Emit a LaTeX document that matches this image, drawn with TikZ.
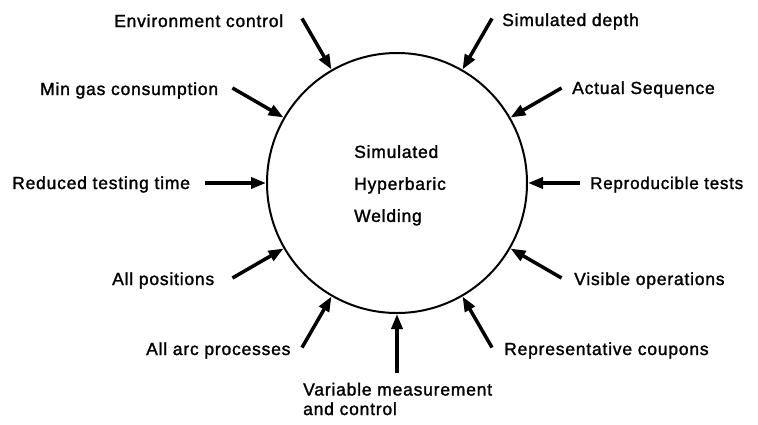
\documentclass[tikz,border=0pt]{standalone}
\usepackage{fontspec}
\setmainfont{Liberation Sans}[LetterSpace=4.5,FakeBold=1.5]
\usetikzlibrary{arrows.meta,calc}
\begin{document}
\begin{tikzpicture}[x=1pt,y=-1pt,
  lbl/.style={inner sep=0pt,anchor=base west,font=\fontsize{17.5}{19.5}\selectfont},
  hub/.style={circle,draw,line width=2pt,minimum size=260pt,inner sep=0pt},
  arr/.style={line width=3.5pt,-{Triangle[length=15pt,width=11pt]}}]
\useasboundingbox (0,0) rectangle (758,424);

% central circle
\node[hub] (c) at (397,183) {};
\node[lbl,align=left,anchor=north west,
      font=\fontsize{17.5}{32}\selectfont] (ct) at (354,145)
  {Simulated\\Hyperbaric\\Welding};

% labels around the circle
\node[lbl] (l120) at (114,27) {Environment control};
\node[lbl] (l60)  at (502,26) {Simulated depth};
\node[lbl] (l150) at (40,95)  {Min gas consumption};
\node[lbl] (l30)  at (572,94) {Actual Sequence};
\node[lbl] (l180) at (12,189) {Reduced testing time};
\node[lbl,font=\fontsize{17}{19}\selectfont] (l0) at (590,189) {Reproducible tests};
\node[lbl] (l210) at (112,285) {All positions};
\node[lbl] (l330) at (574,285) {Visible operations};
\node[lbl] (l240) at (146,355) {All arc processes};
\node[lbl] (l300) at (504,355) {Representative coupons};
\node[lbl,align=left] (l270) at (303,415)
  {Variable measurement\\and control};

% arrow tails, on radial lines outside the circle
\foreach \a/\r in {0/183,30/190,60/190,120/190,150/190,180/192,210/190,
                   240/190,270/190,300/190,330/190}{
  \coordinate (t\a) at ($(c.center)+(\a:\r pt)$);
}
\foreach \a in {0,30,60,120,150,180,210,240,270,300,330}{
  \draw[arr] (t\a) -- (c.\a);
}
\end{tikzpicture}
\end{document}
